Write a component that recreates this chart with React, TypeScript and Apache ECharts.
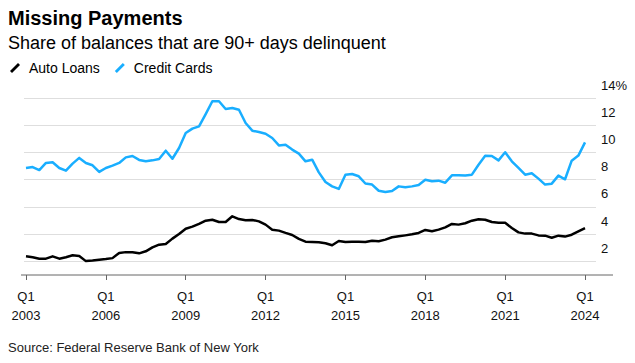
import React, { useEffect, useRef } from "react";
import * as echarts from "echarts";

// Quarter categories, 2003 Q1 through 2024 Q1
const quarters: string[] = [];
for (let y = 2003; y <= 2024; y++) {
  for (let q = 1; q <= 4; q++) {
    if (y === 2024 && q > 1) break;
    quarters.push(`${y} Q${q}`);
  }
}

// Share of balances 90+ days delinquent (%)
const autoLoans = [
  2.37, 2.3, 2.2, 2.2, 2.37, 2.2, 2.3, 2.45, 2.4, 2.02,
  2.06, 2.12, 2.17, 2.24, 2.62, 2.68, 2.67, 2.59, 2.74, 3.03,
  3.23, 3.28, 3.67, 4.01, 4.4, 4.55, 4.75, 4.99, 5.06, 4.89,
  4.89, 5.31, 5.11, 5.02, 5.04, 4.94, 4.7, 4.33, 4.26, 4.09,
  3.94, 3.65, 3.45, 3.42, 3.4, 3.33, 3.18, 3.5, 3.42, 3.45,
  3.45, 3.42, 3.52, 3.48, 3.6, 3.77, 3.84, 3.91, 3.99, 4.09,
  4.31, 4.21, 4.33, 4.5, 4.75, 4.7, 4.8, 4.99, 5.09, 5.06,
  4.89, 4.84, 4.84, 4.45, 4.13, 4.04, 4.04, 3.91, 3.89, 3.74,
  3.89, 3.82, 3.96, 4.21, 4.45,
];

const creditCards = [
  8.86, 8.93, 8.71, 9.23, 9.28, 8.86, 8.66, 9.18, 9.6, 9.23,
  9.06, 8.57, 8.86, 9.03, 9.23, 9.64, 9.74, 9.45, 9.35, 9.42,
  9.52, 10.13, 9.54, 10.33, 11.43, 11.75, 11.92, 12.82, 13.76, 13.76,
  13.19, 13.27, 13.14, 12.16, 11.6, 11.5, 11.38, 11.06, 10.52, 10.57,
  10.21, 9.91, 9.35, 9.47, 8.54, 7.83, 7.51, 7.32, 8.37, 8.42,
  8.25, 7.72, 7.64, 7.19, 7.1, 7.17, 7.51, 7.44, 7.51, 7.61,
  8.0, 7.88, 7.93, 7.78, 8.32, 8.32, 8.3, 8.37, 9.1, 9.75,
  9.74, 9.42, 10.01, 9.35, 8.86, 8.37, 8.47, 8.08, 7.64, 7.71,
  8.3, 8.03, 9.4, 9.77, 10.74,
];

const tickQuarters = [
  "2003 Q1", "2006 Q1", "2009 Q1", "2012 Q1",
  "2015 Q1", "2018 Q1", "2021 Q1", "2024 Q1",
];
const yTicks = [2, 4, 6, 8, 10, 12, 14];

const FONT = "'Liberation Sans', Arial, Helvetica, sans-serif";
const BLUE = "#19aeff";
const SLASH = "path://M0,8 L8,0 L10,2 L2,10 Z";

export default function App() {
  const ref = useRef<HTMLDivElement>(null);

  useEffect(() => {
    if (!ref.current) return;
    const chart = echarts.init(ref.current, undefined, { renderer: "svg" });
    const tickIdx = tickQuarters.map((q) => quarters.indexOf(q));

    chart.setOption({
      animation: false,
      backgroundColor: "#ffffff",
      textStyle: { fontFamily: FONT },
      grid: { left: 24, right: 39, top: 98, bottom: 88, containLabel: false },
      legend: {
        left: 10,
        top: 61,
        padding: 0,
        itemWidth: 10,
        itemHeight: 10,
        itemGap: 15,
        selectedMode: false,
        textStyle: { fontFamily: FONT, fontSize: 14, color: "#000", lineHeight: 14, padding: [0, 0, 0, 4] },
        data: [
          { name: "Auto Loans", icon: SLASH, itemStyle: { color: "#000" } },
          { name: "Credit Cards", icon: SLASH, itemStyle: { color: BLUE } },
        ],
      },
      xAxis: {
        type: "value",
        min: -0.3,
        max: 85.65,
        axisLine: { show: false },
        splitLine: { show: false },
        axisTick: {
          show: true,
          length: 5,
          customValues: tickIdx,
          lineStyle: { color: "#666", width: 1 },
        },
        axisLabel: {
          customValues: tickIdx,
          margin: 12,
          fontSize: 13,
          lineHeight: 19,
          color: "#111",
          fontFamily: FONT,
          formatter: (v: number) => {
            const q = quarters[Math.round(v)] || "";
            const [yr, qq] = q.split(" ");
            return `${qq}\n${yr}`;
          },
        },
      },
      yAxis: {
        type: "value",
        position: "right",
        min: 1,
        max: 14,
        splitNumber: 7,
        minInterval: 2,
        maxInterval: 2,
        axisLine: { show: false },
        axisTick: { show: false },
        splitLine: {
          show: true,
          showMinLine: false,
          lineStyle: { color: "#dedede", width: 1 },
        },
        axisLabel: {
          customValues: yTicks,
          margin: 5,
          align: "left",
          verticalAlign: "bottom",
          lineHeight: 26,
          fontSize: 13,
          color: "#111",
          fontFamily: FONT,
          formatter: (v: number) => (v === 1 ? "" : v === 14 ? "14%" : String(v)),
        },
      },
      series: [
        {
          name: "Auto Loans",
          type: "line",
          data: autoLoans.map((v, i) => [i, v]),
          showSymbol: false,
          symbol: "none",
          lineStyle: { color: "#000", width: 2.5, join: "round" },
          itemStyle: { color: "#000" },
          z: 3,
        },
        {
          name: "Credit Cards",
          type: "line",
          data: creditCards.map((v, i) => [i, v]),
          showSymbol: false,
          symbol: "none",
          lineStyle: { color: BLUE, width: 2.5, join: "round" },
          itemStyle: { color: BLUE },
          z: 3,
        },
      ],
      graphic: [
        {
          type: "text",
          x: 8,
          y: 18,
          style: {
            text: "Missing Payments",
            fontFamily: FONT,
            fontSize: 20,
            fontWeight: "bold",
            fill: "#000",
            verticalAlign: "middle",
          },
        },
        {
          type: "text",
          x: 8,
          y: 43,
          style: {
            text: "Share of balances that are 90+ days delinquent",
            fontFamily: FONT,
            fontSize: 18,
            fill: "#000",
            verticalAlign: "middle",
          },
        },
        {
          type: "text",
          x: 8,
          y: 347,
          style: {
            text: "Source: Federal Reserve Bank of New York",
            fontFamily: FONT,
            fontSize: 13,
            fill: "#222",
            verticalAlign: "middle",
          },
        },
        {
          type: "line",
          shape: { x1: 21, y1: 275, x2: 613, y2: 275 },
          style: { stroke: "#666", lineWidth: 1 },
          z: 10,
        },
      ],
    });

    return () => chart.dispose();
  }, []);

  return (
    <div
      ref={ref}
      style={{ position: "fixed", left: 0, top: 0, width: 635, height: 363 }}
    />
  );
}
